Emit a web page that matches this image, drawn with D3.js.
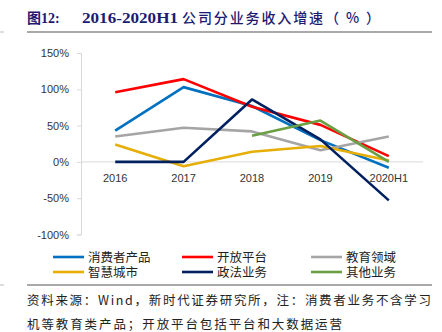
<!DOCTYPE html>
<html>
<head>
<meta charset="utf-8">
<script src="https://cdn.jsdelivr.net/npm/d3@7"></script>
<style>
  body { margin: 0; background: #fff; }
  text { font-family: "Liberation Sans", "Noto Sans CJK SC", sans-serif; }
</style>
</head>
<body>
<svg id="chart" width="442" height="332"></svg>
<script>
// growth by business line, %
var years = ["2016", "2017", "2018", "2019", "2020H1"];
var consumer = [43, 103, 77, 30, -8];
var openPlatform = [96, 114, 76, 51, 8];
var education = [35, 47, 42, 16, 35];
var smartCity = [24, -6, 14, 22, 2];
var government = [0, 0, 86, 31, -53];
var other = [null, null, 36, 57, 0];
var yTicks = [150, 100, 50, 0, -50, -100];

var series = [
  { name: "消费者产品", values: consumer, color: "#0070C0" },
  { name: "开放平台", values: openPlatform, color: "#FF0000" },
  { name: "教育领域", values: education, color: "#A5A5A5" },
  { name: "智慧城市", values: smartCity, color: "#E6AE06" },
  { name: "政法业务", values: government, color: "#002060" },
  { name: "其他业务", values: other, color: "#6A9F44" }
];

var svg = d3.select("#chart");

// title
var title = svg.append("text")
  .attr("x", 27)
  .attr("y", 23)
  .attr("fill", "#1B1B72")
  .style("font-size", "14px")
  .style("font-weight", "bold");
title.append("tspan")
  .style("font-family", "'Noto Sans CJK SC'")
  .text("图");
title.append("tspan")
  .style("font-family", "'Liberation Serif', serif")
  .text("12:");
title.append("tspan")
  .attr("x", 82)
  .attr("textLength", 96)
  .attr("lengthAdjust", "spacingAndGlyphs")
  .style("font-family", "'Liberation Serif', serif")
  .style("font-size", "15px")
  .text("2016-2020H1");
title.append("tspan")
  .attr("x", 182)
  .attr("textLength", 198)
  .attr("lengthAdjust", "spacing")
  .style("font-family", "'Noto Sans CJK SC'")
  .style("font-weight", "500")
  .text("公司分业务收入增速（ % ）");

svg.append("line")
  .attr("x1", 27).attr("x2", 432)
  .attr("y1", 32).attr("y2", 32)
  .attr("stroke", "#8c8c8c")
  .attr("stroke-width", 1.5);

var x = d3.scaleBand().domain(years).range([81, 423]);
var y = d3.scaleLinear().domain([-100, 150]).range([234.5, 53]);

// y axis
var yAxis = svg.append("g")
  .attr("transform", "translate(81,0)")
  .call(d3.axisLeft(y).tickValues(yTicks).tickSize(4).tickFormat(function(d) { return d + "%"; }));
yAxis.select(".domain").attr("stroke", "#d9d9d9");
yAxis.selectAll(".tick line").attr("stroke", "#d9d9d9");
yAxis.selectAll(".tick text")
  .attr("x", -12)
  .attr("fill", "#333")
  .style("font-size", "11px");

// zero line
svg.append("line")
  .attr("x1", 81).attr("x2", 423)
  .attr("y1", y(0)).attr("y2", y(0))
  .attr("stroke", "#d9d9d9")
  .attr("stroke-width", 1);

// category labels
svg.append("g").selectAll("text")
  .data(years)
  .join("text")
  .attr("x", function(d) { return x(d) + x.bandwidth() / 2; })
  .attr("y", 182)
  .attr("text-anchor", "middle")
  .attr("fill", "#333")
  .style("font-size", "11px")
  .text(function(d) { return d; });

var line = d3.line()
  .defined(function(d) { return d != null; })
  .x(function(d, i) { return x(years[i]) + x.bandwidth() / 2; })
  .y(function(d) { return y(d); });

svg.append("g").selectAll("path")
  .data(series)
  .join("path")
  .attr("d", function(s) { return line(s.values); })
  .attr("fill", "none")
  .attr("stroke", function(s) { return s.color; })
  .attr("stroke-width", 2.6)
  .attr("stroke-linejoin", "round");

// legend, 3 per row
var legend = svg.append("g").selectAll("g")
  .data(series)
  .join("g")
  .attr("transform", function(s, i) {
    return "translate(" + [53, 182, 311][i % 3] + "," + (257 + Math.floor(i / 3) * 15) + ")";
  });
legend.append("line")
  .attr("x1", 0).attr("x2", 31)
  .attr("stroke", function(s) { return s.color; })
  .attr("stroke-width", 2.6);
legend.append("text")
  .attr("x", 35)
  .attr("y", 4.5)
  .attr("fill", "#222")
  .style("font-size", "12.5px")
  .text(function(s) { return s.name; });

svg.append("line")
  .attr("x1", 27).attr("x2", 432)
  .attr("y1", 285).attr("y2", 285)
  .attr("stroke", "#555")
  .attr("stroke-width", 1);

// small edge marks
svg.append("line").attr("x1", 0).attr("x2", 4).attr("y1", 32).attr("y2", 32).attr("stroke", "#bbb");
svg.append("line").attr("x1", 0).attr("x2", 4).attr("y1", 285).attr("y2", 285).attr("stroke", "#bbb");

// source note
var notes = [
  "资料来源：Wind，新时代证券研究所，注：消费者业务不含学习",
  "机等教育类产品；开放平台包括平台和大数据运营"
];
svg.append("g").selectAll("text")
  .data(notes)
  .join("text")
  .attr("x", 27)
  .attr("y", function(d, i) { return 305 + i * 24; })
  .attr("fill", "#222")
  .style("font-size", "12.5px")
  .style("font-family", "'Noto Sans CJK SC'")
  .attr("textLength", function(d, i) { return i === 0 ? 404 : 315; })
  .attr("lengthAdjust", "spacing")
  .text(function(d) { return d; });
</script>
</body>
</html>
